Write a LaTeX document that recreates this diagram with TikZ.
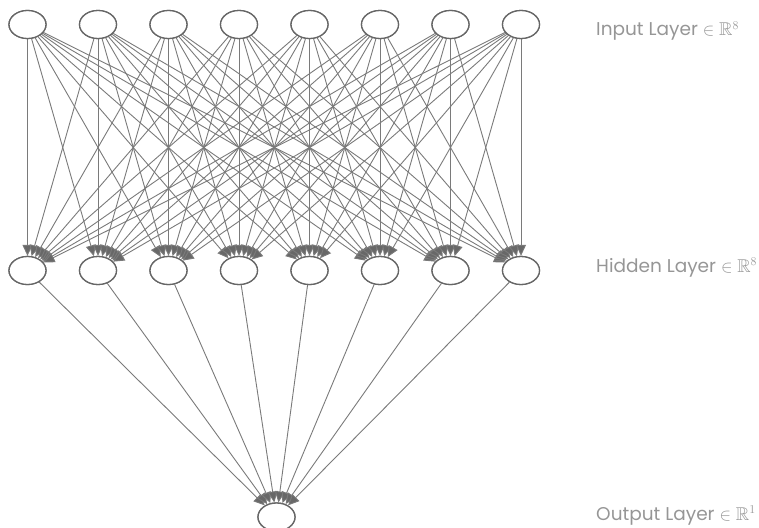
\documentclass[tikz,border=0pt]{standalone}
\usepackage{amssymb}
\usepackage{fontspec}
\setmainfont{Poppins}
\usetikzlibrary{arrows.meta,shapes.geometric}
\definecolor{edgegray}{HTML}{7A7A7A}
\definecolor{nodegray}{HTML}{666666}
\definecolor{labelgray}{HTML}{969696}
\tikzset{
  neuron/.style={ellipse,draw=nodegray,line width=1.3pt,fill=white,
    minimum width=37pt,minimum height=28pt,inner sep=0pt},
  link/.style={draw=edgegray,line width=0.9pt,
    -{Triangle[length=11pt,width=10pt,fill=edgegray!85!black]}},
  layerlabel/.style={anchor=base west,text=labelgray,font=\fontsize{18.5}{20}\selectfont,inner sep=0pt}
}
\begin{document}
\begin{tikzpicture}[x=1pt,y=-1pt]
  \useasboundingbox (0,0) rectangle (759,527);
  \clip (0,0) rectangle (759,527);
  % input and hidden layers
  \foreach \i in {1,...,8} {
    \pgfmathsetmacro{\xx}{27.5+70.5*(\i-1)}
    \node[neuron] (in\i) at (\xx,24.5) {};
    \node[neuron] (hid\i) at (\xx,270.5) {};
  }
  \node[neuron] (out) at (276.5,517) {};
  % fully connected input -> hidden
  \foreach \i in {1,...,8} {
    \foreach \j in {1,...,8} {
      \draw[link] (in\i) -- (hid\j);
    }
  }
  % hidden -> output
  \foreach \j in {1,...,8} {
    \draw[link] (hid\j) -- (out);
  }
  % redraw nodes over the lines
  \foreach \i in {1,...,8} {
    \node[neuron] at (in\i) {};
    \node[neuron] at (hid\i) {};
  }
  \node[neuron] at (out) {};
  % layer labels
  \node[layerlabel] (lin) at (596,36) {Input Layer $\in\mathbb{R}^{8}$};
  \node[layerlabel] (lhid) at (596,272) {Hidden Layer $\in\mathbb{R}^{8}$};
  \node[layerlabel] (lout) at (596,520) {Output Layer $\in\mathbb{R}^{1}$};
\end{tikzpicture}
\end{document}
